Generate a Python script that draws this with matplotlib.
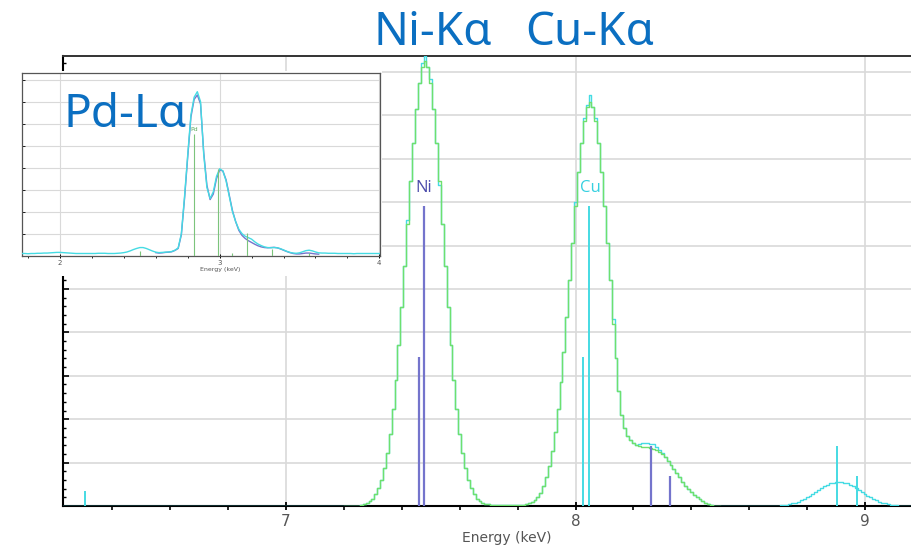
import numpy as np
import matplotlib.pyplot as plt
from matplotlib.patches import Rectangle
from matplotlib.ticker import MultipleLocator

# main spectrum: 10 eV channels, one y unit = one gridline
e_first, e_last = 6.23, 9.16
green_start = 7.20
green_counts = [
    0.00, 0.00, 0.00, 0.00, 0.01, 0.01,
    0.02, 0.04, 0.07, 0.11, 0.17, 0.27, 0.41, 0.60, 0.87, 1.22,
    1.67, 2.23, 2.91, 3.70, 4.58, 5.54, 6.51, 7.48, 8.37, 9.15,
    9.75, 10.12, 10.25, 10.12, 9.75, 9.15, 8.37, 7.48, 6.51, 5.54,
    4.58, 3.70, 2.91, 2.23, 1.67, 1.22, 0.87, 0.60, 0.41, 0.27,
    0.17, 0.11, 0.07, 0.05, 0.04, 0.03,
    0.03, 0.03, 0.03, 0.03, 0.03, 0.03, 0.03, 0.03, 0.03, 0.03, 0.03,
    0.04, 0.06, 0.09, 0.14, 0.21, 0.31, 0.46, 0.66, 0.92, 1.27,
    1.70, 2.23, 2.85, 3.56, 4.36, 5.21, 6.07, 6.92, 7.70, 8.36,
    8.87, 9.19, 9.30, 9.19, 8.87, 8.36, 7.70, 6.92, 6.07, 5.21,
    4.20, 3.40, 2.65, 2.10, 1.80, 1.62, 1.52, 1.45, 1.40, 1.38,
    1.37, 1.36, 1.35, 1.33, 1.31, 1.28, 1.24, 1.19, 1.13, 1.04,
    0.95, 0.86, 0.76, 0.66, 0.56, 0.47, 0.39, 0.32, 0.26, 0.20,
    0.16, 0.12, 0.08, 0.05, 0.03, 0.01, 0.00, 0.00,
]
# channels where the measured (cyan) spectrum differs from the green one
cyan_fix_e = [7.42, 7.47, 7.48, 7.50, 7.53, 8.00, 8.03, 8.04, 8.05, 8.07, 8.13,
              8.22, 8.23, 8.24, 8.25, 8.26, 8.27, 8.28, 8.29, 8.30]
cyan_fix_v = [6.60, 10.22, 10.36, 9.85, 7.40, 7.00, 8.95, 9.25, 9.48, 8.95, 4.30,
              1.44, 1.46, 1.46, 1.45, 1.44, 1.42, 1.37, 1.30, 1.23]
cukb_start = 8.70
cukb_counts = [
    0.01, 0.02, 0.02, 0.03, 0.05, 0.06, 0.08, 0.10, 0.13, 0.16,
    0.20, 0.23, 0.28, 0.32, 0.37, 0.41, 0.45, 0.49, 0.52, 0.54,
    0.56, 0.56, 0.56, 0.54, 0.52, 0.49, 0.45, 0.41, 0.37, 0.32,
    0.28, 0.23, 0.20, 0.16, 0.13, 0.10, 0.08, 0.06, 0.05, 0.03,
    0.02, 0.02, 0.01,
]

ni_lines_e = [7.458, 7.476, 8.262, 8.327]
ni_lines_h = [3.44, 6.91, 1.39, 0.68]
cu_lines_e = [6.305, 8.026, 8.047, 8.903, 8.974]
cu_lines_h = [0.35, 3.44, 6.91, 1.39, 0.68]

# inset: Pd L region, sampled every 20 eV
pd_start = 1.76
pd_cyan = [
    0.10, 0.10, 0.09, 0.10, 0.10, 0.11, 0.11, 0.12, 0.12, 0.13,
    0.14, 0.15, 0.15, 0.14, 0.13, 0.12, 0.11, 0.10, 0.10, 0.10,
    0.10, 0.10, 0.10, 0.10, 0.11, 0.11, 0.11, 0.10, 0.10, 0.10,
    0.11, 0.12, 0.14, 0.17, 0.22, 0.28, 0.33, 0.37, 0.37, 0.33,
    0.27, 0.21, 0.16, 0.14, 0.15, 0.16, 0.17, 0.19, 0.25, 0.35,
    1.00, 2.70, 4.60, 6.40, 7.20, 7.45, 7.00, 4.60, 3.10, 2.60,
    2.90, 3.60, 3.95, 3.85, 3.40, 2.70, 2.00, 1.55, 1.20, 1.00,
    0.88, 0.82, 0.75, 0.63, 0.53, 0.46, 0.40, 0.37, 0.36, 0.37,
    0.36, 0.32, 0.26, 0.20, 0.15, 0.12, 0.11, 0.13, 0.18, 0.23,
    0.25, 0.22, 0.17, 0.13, 0.12, 0.12, 0.11, 0.11, 0.11, 0.10,
    0.10, 0.10, 0.10, 0.10, 0.09, 0.10, 0.10, 0.10, 0.10, 0.10,
    0.10, 0.10, 0.10,
]
pd_purple_start = 2.60
pd_purple = [
    0.14, 0.12, 0.13, 0.15, 0.16, 0.18, 0.24, 0.33, 0.95, 2.60,
    4.50, 6.30, 7.10, 7.30, 6.90, 4.70, 3.20, 2.55, 2.80, 3.50,
    3.90, 3.85, 3.45, 2.75, 2.05, 1.55, 1.15, 0.92, 0.78, 0.68,
    0.60, 0.52, 0.45, 0.40, 0.37, 0.36, 0.37, 0.38, 0.36, 0.31,
    0.25, 0.19, 0.14, 0.10, 0.08, 0.08, 0.10, 0.12, 0.12, 0.10,
    0.08, 0.07,
]
pd_lines_e = [2.503, 2.838, 2.990, 3.078, 3.172, 3.328, 3.557]
pd_lines_h = [0.20, 5.53, 3.95, 0.14, 1.05, 0.29, 0.14]

GREEN = '#6ee06e'
CYAN = '#45dbe3'
NI_COL = '#7474cc'
BLUE = '#0b6fc1'
GREY = '#d9d9d9'

# build channel grids
chan = np.arange(int(round(e_first * 100)), int(round(e_last * 100)) + 1)
energy = chan / 100.0
cyan = np.zeros(len(chan))
g0 = int(round(green_start * 100)) - chan[0]
cyan[g0:g0 + len(green_counts)] = green_counts
for e, v in zip(cyan_fix_e, cyan_fix_v):
    cyan[int(round(e * 100)) - chan[0]] = v
k0 = int(round(cukb_start * 100)) - chan[0]
cyan[k0:k0 + len(cukb_counts)] = cukb_counts
green_e = green_start + 0.01 * np.arange(len(green_counts))

fig = plt.figure(figsize=(9.12, 5.48), dpi=100)

ax = fig.add_axes([63 / 912, 42 / 548, 849 / 912, 450 / 548])
ax.set_xlim(6.2297, 9.1623)
ax.set_ylim(0, 10.37)
ax.step(energy, cyan, where='mid', color=CYAN, lw=1.0, zorder=3)
ax.step(green_e, green_counts, where='mid', color=GREEN, lw=1.0, zorder=4)
ax.vlines(ni_lines_e, 0, ni_lines_h, color=NI_COL, lw=1.6, zorder=5)
ax.vlines(cu_lines_e, 0, cu_lines_h, color=CYAN, lw=1.4, zorder=5)
ax.text(7.476, 7.33, 'Ni', color='#4b4bab', fontsize=12, family='Open Sans',
        ha='center', va='center', zorder=6)
ax.text(8.05, 7.33, 'Cu', color='#36d0e0', fontsize=12, family='Open Sans',
        ha='center', va='center', zorder=6)

ax.xaxis.set_major_locator(MultipleLocator(1))
ax.xaxis.set_minor_locator(MultipleLocator(0.2))
ax.yaxis.set_major_locator(MultipleLocator(1))
ax.yaxis.set_minor_locator(MultipleLocator(0.2))
ax.tick_params(axis='x', which='major', direction='inout', length=6, width=1.3,
               labelsize=11, labelcolor='#555555', pad=3)
ax.tick_params(axis='x', which='minor', direction='out', length=3, width=1.2)
ax.tick_params(axis='y', which='major', direction='in', length=4, width=1.2,
               labelleft=False)
ax.tick_params(axis='y', which='minor', direction='in', length=2.2, width=1.0)
ax.grid(True, which='major', color=GREY, lw=1.2)
ax.set_axisbelow(True)
ax.spines['right'].set_visible(False)
ax.spines['top'].set_color('#333333')
ax.spines['top'].set_linewidth(1.4)
ax.spines['left'].set_linewidth(1.5)
ax.spines['bottom'].set_linewidth(1.5)
fig.text(507 / 912, 1 - 538 / 548, 'Energy (keV)', fontsize=10, color='#555555',
         ha='center', va='center')

# white card behind the inset
fig.add_artist(Rectangle((20 / 912, (548 - 276) / 548), 362 / 912, 205 / 548,
                         transform=fig.transFigure, facecolor='white',
                         edgecolor='none', zorder=1))

axin = fig.add_axes([22 / 912, (548 - 255.7) / 548, 358 / 912, 182.7 / 548])
axin.set_zorder(2)
axin.set_xlim(1.762, 4.004)
axin.set_ylim(0, 8.3)
pd_e = pd_start + 0.02 * np.arange(len(pd_cyan))
pd_pe = pd_purple_start + 0.02 * np.arange(len(pd_purple))
axin.plot(pd_pe, pd_purple, color=NI_COL, lw=1.0, zorder=3)
axin.plot(pd_e, pd_cyan, color=CYAN, lw=1.0, zorder=4)
axin.vlines(pd_lines_e, 0, pd_lines_h, color='#7cc47c', lw=0.8, zorder=5)
axin.text(2.838, 5.6, 'Pd', color='#5aa85a', fontsize=4.5, ha='center', va='bottom')
axin.xaxis.set_major_locator(MultipleLocator(1))
axin.xaxis.set_minor_locator(MultipleLocator(0.2))
axin.yaxis.set_major_locator(MultipleLocator(1))
axin.tick_params(axis='x', which='major', direction='inout', length=3, width=0.7,
                 labelsize=5, labelcolor='#555555', pad=1.5)
axin.tick_params(axis='x', which='minor', direction='out', length=1.5, width=0.6)
axin.tick_params(axis='y', which='major', direction='in', length=1.8, width=0.6,
                 labelleft=False)
axin.grid(True, which='major', color=GREY, lw=0.8)
axin.set_axisbelow(True)
for s in axin.spines.values():
    s.set_color('#555555')
    s.set_linewidth(0.9)
fig.text(220 / 912, 1 - 270 / 548, 'Energy (keV)', fontsize=4.5, color='#555555',
         ha='center', va='center', zorder=4)

# peak labels
big = dict(fontsize=33, color=BLUE, family='Noto Sans', va='baseline', zorder=5)
fig.text(373 / 912, 1 - 45 / 548, 'Ni-K\u03b1', **big)
fig.text(525 / 912, 1 - 45 / 548, 'Cu-K\u03b1', **big)
fig.text(64 / 912, 1 - 127 / 548, 'Pd-L\u03b1', **big)

fig.savefig('out.png', dpi=100)
